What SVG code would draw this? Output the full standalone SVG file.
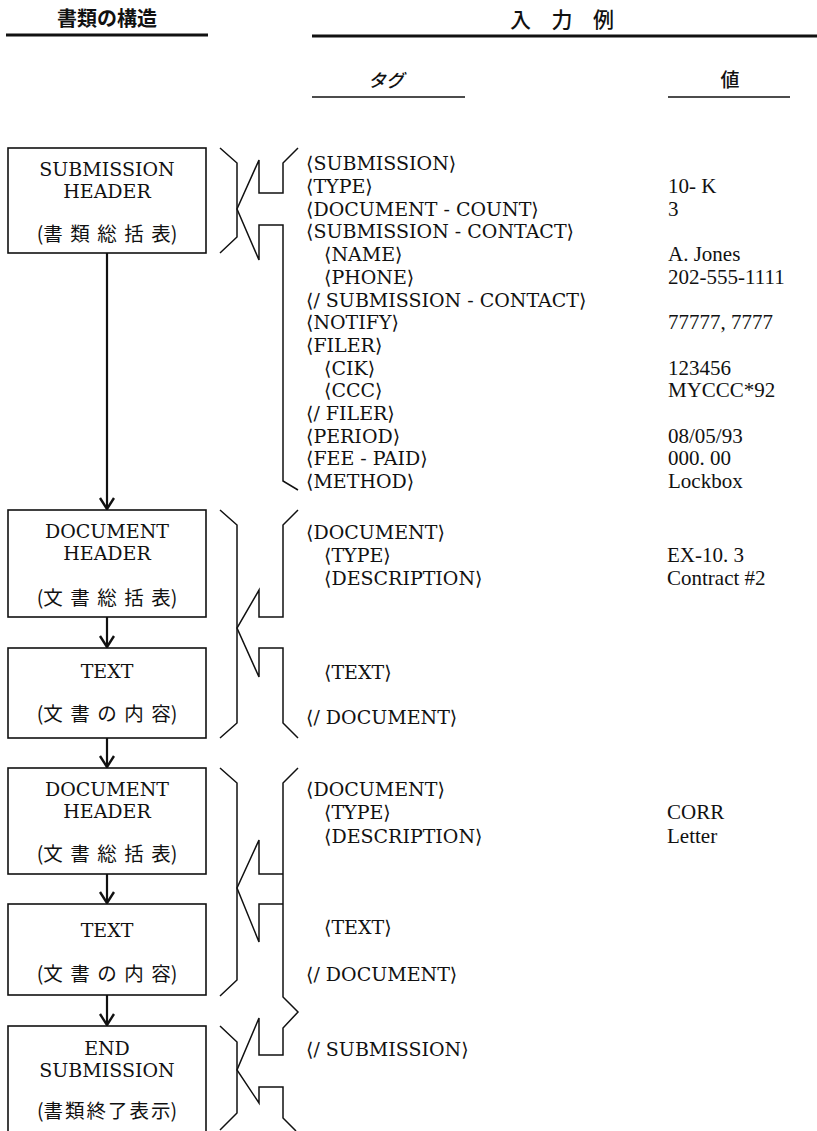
<svg xmlns="http://www.w3.org/2000/svg" width="817" height="1131" viewBox="0 0 817 1131">
<style>
.bg{fill:#fff}
.box{fill:#fff;stroke:#111;stroke-width:1.6}
.br{fill:none;stroke:#111;stroke-width:1.5;stroke-linejoin:miter}
.conn{fill:none;stroke:#111;stroke-width:2.2}
.ul{stroke:#111;fill:none}
.en{font-family:'DejaVu Serif',serif;font-size:19px;fill:#111}
.bx{font-family:'DejaVu Serif',serif;font-size:19px;fill:#111;text-anchor:middle}
.jp{font-family:'Noto Sans CJK JP',sans-serif;font-size:19.5px;fill:#111;text-anchor:middle}
.val{font-family:'Liberation Serif','DejaVu Serif',serif;font-size:21px;fill:#111}
.hd{font-family:'Noto Sans CJK JP',sans-serif;fill:#111}
</style>
<defs>
<marker id="ah" markerUnits="userSpaceOnUse" markerWidth="16" markerHeight="18" refX="12" refY="8" orient="auto">
<path d="M1,1 L12,8 L1,15" fill="none" stroke="#111" stroke-width="2.4"/>
</marker>
</defs>
<rect class="bg" x="0" y="0" width="817" height="1131"/>

<g id="headers">
<text class="hd" x="107" y="26" font-size="20" font-weight="700" text-anchor="middle">書類の構造</text>
<line class="ul" x1="6" y1="35" x2="208" y2="35" stroke-width="3"/>
<text class="hd" x="510" y="27" font-size="21" font-weight="500" letter-spacing="20.5">入力例</text>
<line class="ul" x1="312" y1="36" x2="817" y2="36" stroke-width="3"/>
<text class="hd" x="386" y="87" font-size="18" font-weight="500" font-style="italic" text-anchor="middle">タグ</text>
<line class="ul" x1="312" y1="97" x2="465" y2="97" stroke-width="1.6"/>
<text class="hd" x="730" y="87" font-size="19" font-weight="500" text-anchor="middle">値</text>
<line class="ul" x1="668" y1="97" x2="790" y2="97" stroke-width="1.6"/>
</g>

<g id="connectors">
<line class="conn" x1="107" y1="253" x2="107" y2="509" marker-end="url(#ah)"/>
<line class="conn" x1="107" y1="617" x2="107" y2="647" marker-end="url(#ah)"/>
<line class="conn" x1="107" y1="738" x2="107" y2="767" marker-end="url(#ah)"/>
<line class="conn" x1="107" y1="874" x2="107" y2="903" marker-end="url(#ah)"/>
<line class="conn" x1="107" y1="995" x2="107" y2="1025" marker-end="url(#ah)"/>
</g>

<g id="node-submission-header">
<rect class="box" x="8" y="148" width="198" height="105"/>
<text class="bx" x="107" y="176">SUBMISSION</text>
<text class="bx" x="107" y="198">HEADER</text>
<text class="jp" x="107" y="241">(<tspan letter-spacing="7.5">書類総括</tspan>表)</text>
</g>
<g id="node-document-header-1">
<rect class="box" x="8" y="510" width="198" height="107"/>
<text class="bx" x="107" y="538">DOCUMENT</text>
<text class="bx" x="107" y="560">HEADER</text>
<text class="jp" x="107" y="605">(<tspan letter-spacing="7.5">文書総括</tspan>表)</text>
</g>
<g id="node-text-1">
<rect class="box" x="8" y="648" width="198" height="90"/>
<text class="bx" x="107" y="678">TEXT</text>
<text class="jp" x="107" y="721">(<tspan letter-spacing="7.5">文書の内</tspan>容)</text>
</g>
<g id="node-document-header-2">
<rect class="box" x="8" y="768" width="198" height="106"/>
<text class="bx" x="107" y="796">DOCUMENT</text>
<text class="bx" x="107" y="818">HEADER</text>
<text class="jp" x="107" y="861">(<tspan letter-spacing="7.5">文書総括</tspan>表)</text>
</g>
<g id="node-text-2">
<rect class="box" x="8" y="904" width="198" height="91"/>
<text class="bx" x="107" y="937">TEXT</text>
<text class="jp" x="107" y="981">(<tspan letter-spacing="7.5">文書の内</tspan>容)</text>
</g>
<g id="node-end-submission">
<rect class="box" x="8" y="1026" width="198" height="120"/>
<text class="bx" x="107" y="1055">END</text>
<text class="bx" x="107" y="1077">SUBMISSION</text>
<text class="jp" x="107" y="1118" font-size="20">(<tspan letter-spacing="2">書類終了表</tspan>示)</text>
</g>

<g id="tags">
<text class="en" x="306" y="170">⟨SUBMISSION⟩</text>
<text class="en" x="306" y="193">⟨TYPE⟩</text>
<text class="en" x="306" y="215.7">⟨DOCUMENT - COUNT⟩</text>
<text class="en" x="306" y="238.4">⟨SUBMISSION - CONTACT⟩</text>
<text class="en" x="324" y="261">⟨NAME⟩</text>
<text class="en" x="324" y="284">⟨PHONE⟩</text>
<text class="en" x="306" y="306.5">⟨/ SUBMISSION - CONTACT⟩</text>
<text class="en" x="306" y="329">⟨NOTIFY⟩</text>
<text class="en" x="306" y="352">⟨FILER⟩</text>
<text class="en" x="324" y="374.6">⟨CIK⟩</text>
<text class="en" x="324" y="397.3">⟨CCC⟩</text>
<text class="en" x="306" y="420">⟨/ FILER⟩</text>
<text class="en" x="306" y="442.7">⟨PERIOD⟩</text>
<text class="en" x="306" y="465.4">⟨FEE - PAID⟩</text>
<text class="en" x="306" y="488">⟨METHOD⟩</text>

<text class="en" x="306" y="539">⟨DOCUMENT⟩</text>
<text class="en" x="324" y="562">⟨TYPE⟩</text>
<text class="en" x="324" y="585">⟨DESCRIPTION⟩</text>
<text class="en" x="324" y="679">⟨TEXT⟩</text>
<text class="en" x="306" y="724">⟨/ DOCUMENT⟩</text>

<text class="en" x="306" y="796">⟨DOCUMENT⟩</text>
<text class="en" x="324" y="819">⟨TYPE⟩</text>
<text class="en" x="324" y="843">⟨DESCRIPTION⟩</text>
<text class="en" x="324" y="934">⟨TEXT⟩</text>
<text class="en" x="306" y="981">⟨/ DOCUMENT⟩</text>
<text class="en" x="306" y="1056">⟨/ SUBMISSION⟩</text>
</g>

<g id="values">
<text class="val" x="668" y="193">10- K</text>
<text class="val" x="668" y="215.7">3</text>
<text class="val" x="668" y="261">A.  Jones</text>
<text class="val" x="668" y="284">202-555-1111</text>
<text class="val" x="668" y="329">77777, 7777</text>
<text class="val" x="668" y="374.6">123456</text>
<text class="val" x="668" y="397.3">MYCCC*92</text>
<text class="val" x="668" y="442.7">08/05/93</text>
<text class="val" x="668" y="465.4">000. 00</text>
<text class="val" x="668" y="488">Lockbox</text>
<text class="val" x="667" y="562">EX-10. 3</text>
<text class="val" x="667" y="585">Contract  #2</text>
<text class="val" x="667" y="819">CORR</text>
<text class="val" x="667" y="843">Letter</text>
</g>

<g id="brackets">
<path class="br" d="M220,148 L237,163 L237,237 L220,253"/>
<path class="br" d="M298,148 L283,163 L283,193 L259,193 L259,160 L237,209 L259,260 L259,225 L283,225 L283,481 L298,490"/>
<path class="br" d="M220,510 L237,525 L237,723 L220,738"/>
<path class="br" d="M298,510 L283,525 L283,617 L259,617 L259,590 L237,628 L259,677 L259,648 L283,648 L283,723 L298,738"/>
<path class="br" d="M220,768 L237,783 L237,980 L220,996"/>
<path class="br" d="M298,768 L283,783 L283,997 L298,1012 L283,1028 L283,1055 L259,1055 L259,1018 L237,1070 L259,1103 L259,1087 L283,1087 L283,1118 L296,1131"/>
<path class="br" d="M283,874 L259,874 L259,840 L237,888 L259,942 L259,904 L283,904"/>
<path class="br" d="M220,1026 L237,1042 L237,1113 L220,1130"/>
</g>
</svg>
